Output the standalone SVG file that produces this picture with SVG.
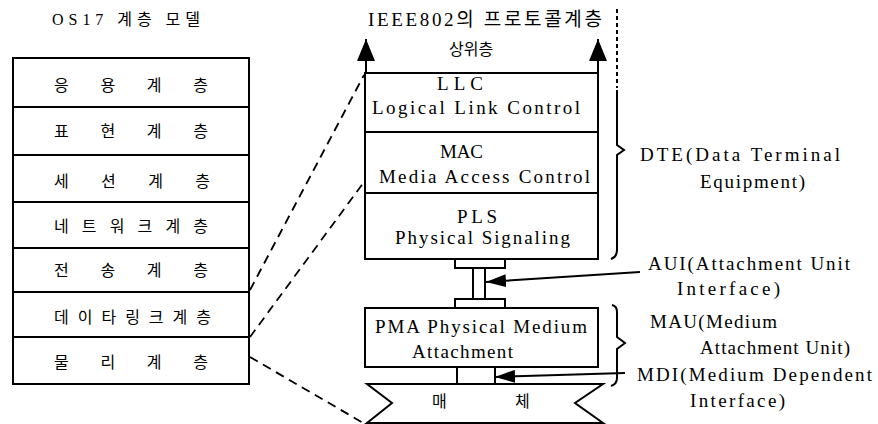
<svg xmlns="http://www.w3.org/2000/svg" width="878" height="424" viewBox="0 0 878 424">
  <style>
    .box { fill: #fff; stroke: #000; stroke-width: 2; }
    .ln { fill: none; stroke: #000; stroke-width: 2; }
    .dash { fill: none; stroke: #000; stroke-width: 1.8; stroke-dasharray: 9 6; }
    .dot { fill: none; stroke: #000; stroke-width: 2; stroke-dasharray: 4 3; }
    .en { font-family: "Liberation Serif", "Noto Sans CJK KR", serif; font-size: 19px; fill: #000; }
    .ko { font-family: "Liberation Serif", "Noto Sans CJK KR", serif; font-size: 16px; fill: #000; }
  </style>
  <defs>
    <marker id="up" viewBox="0 0 10 10" refX="10" refY="5" markerUnits="userSpaceOnUse" markerWidth="22" markerHeight="18" orient="auto" preserveAspectRatio="none">
      <path d="M0,0 L10,5 L0,10 z" fill="#000"/>
    </marker>
    <marker id="side" viewBox="0 0 10 10" refX="10" refY="5" markerUnits="userSpaceOnUse" markerWidth="20" markerHeight="13" orient="auto" preserveAspectRatio="none">
      <path d="M0,0 L10,5 L0,10 z" fill="#000"/>
    </marker>
  </defs>
  <rect width="878" height="424" fill="#fff"/>

  <!-- OSI 7 layer stack -->
  <g id="osi">
    <text class="ko" x="52" y="25" textLength="148" lengthAdjust="spacing" font-size="18">OS17 계층 모델</text>
    <g id="osi-app">
      <rect class="box" x="13" y="58" width="236" height="49"/>
      <text class="ko" x="54" y="91" textLength="154" lengthAdjust="spacing">응 용 계 층</text>
    </g>
    <g id="osi-pres">
      <rect class="box" x="13" y="107" width="236" height="48"/>
      <text class="ko" x="54" y="137" textLength="154" lengthAdjust="spacing">표 현 계 층</text>
    </g>
    <g id="osi-sess">
      <rect class="box" x="13" y="155" width="236" height="47"/>
      <text class="ko" x="54" y="187" textLength="156" lengthAdjust="spacing">세 션 계 층</text>
    </g>
    <g id="osi-net">
      <rect class="box" x="13" y="202" width="236" height="46"/>
      <text class="ko" x="54" y="232" textLength="154" lengthAdjust="spacing">네트워크계층</text>
    </g>
    <g id="osi-trans">
      <rect class="box" x="13" y="248" width="236" height="44"/>
      <text class="ko" x="54" y="276" textLength="154" lengthAdjust="spacing">전 송 계 층</text>
    </g>
    <g id="osi-link">
      <rect class="box" x="13" y="292" width="236" height="45"/>
      <text class="ko" x="54" y="323" textLength="157" lengthAdjust="spacing">데이타링크계층</text>
    </g>
    <g id="osi-phys">
      <rect class="box" x="13" y="337" width="236" height="47"/>
      <text class="ko" x="54" y="368" textLength="154" lengthAdjust="spacing">물 리 계 층</text>
    </g>
  </g>

  <!-- IEEE 802 stack -->
  <g id="ieee-title">
    <text class="en" x="368" y="26" textLength="234" lengthAdjust="spacing" font-size="18">IEEE802의 프로토콜계층</text>
    <text class="ko" x="449" y="55" font-size="14">상위층</text>
  </g>
  <g id="llc">
    <rect class="box" x="365" y="73" width="233" height="59"/>
    <text class="en" x="437" y="90" textLength="46" lengthAdjust="spacing">LLC</text>
    <text class="en" x="372" y="114" textLength="208" lengthAdjust="spacing">Logical Link Control</text>
  </g>
  <g id="mac">
    <rect class="box" x="365" y="132" width="233" height="61"/>
    <text class="en" x="440" y="158" textLength="43" lengthAdjust="spacing">MAC</text>
    <text class="en" x="379" y="183" textLength="211" lengthAdjust="spacing">Media Access Control</text>
  </g>
  <g id="pls">
    <rect class="box" x="365" y="193" width="233" height="66"/>
    <text class="en" x="457" y="223" textLength="40" lengthAdjust="spacing">PLS</text>
    <text class="en" x="395" y="244" textLength="175" lengthAdjust="spacing">Physical Signaling</text>
  </g>
  <g id="aui-cable">
    <rect class="box" x="455" y="259" width="50" height="9"/>
    <line class="ln" x1="473" y1="268" x2="473" y2="299"/>
    <line class="ln" x1="485" y1="268" x2="485" y2="299"/>
    <rect class="box" x="455" y="299" width="50" height="9"/>
  </g>
  <g id="pma">
    <rect class="box" x="365" y="308" width="233" height="59"/>
    <text class="en" x="375" y="333" textLength="212" lengthAdjust="spacing">PMA Physical Medium</text>
    <text class="en" x="412" y="358" textLength="101" lengthAdjust="spacing">Attachment</text>
  </g>
  <g id="mdi">
    <rect class="box" x="457" y="367" width="38" height="17"/>
  </g>
  <g id="medium">
    <polygon class="box" points="367,384 603,384 575,403 603,423 367,423 392,403"/>
    <text class="ko" x="432" y="407" font-size="14">매</text>
    <text class="ko" x="515" y="407" font-size="14">체</text>
  </g>

  <!-- side labels -->
  <g id="dte">
    <path class="ln" d="M617,90 V145 L624,150 L617,155 V250 Q617,257 611,259"/>
    <text class="en" x="640" y="161" textLength="200" lengthAdjust="spacing">DTE(Data Terminal</text>
    <text class="en" x="700" y="188" textLength="105" lengthAdjust="spacing">Equipment)</text>
  </g>
  <g id="aui">
    <text class="en" x="648" y="270" textLength="202" lengthAdjust="spacing">AUI(Attachment Unit</text>
    <text class="en" x="677" y="295" textLength="103" lengthAdjust="spacing">Interface)</text>
  </g>
  <g id="mau">
    <path class="ln" d="M612,305 Q617,306 617,312 V337 L625,343 L617,349 V378 Q617,384 611,386"/>
    <text class="en" x="650" y="328" textLength="127" lengthAdjust="spacing">MAU(Medium</text>
    <text class="en" x="700" y="354" textLength="150" lengthAdjust="spacing">Attachment Unit)</text>
  </g>
  <g id="mdi-label">
    <text class="en" x="637" y="381" textLength="235" lengthAdjust="spacing">MDI(Medium Dependent</text>
    <text class="en" x="690" y="407" textLength="95" lengthAdjust="spacing">Interface)</text>
  </g>

  <!-- connectors -->
  <g id="connectors">
    <line class="ln" x1="366" y1="74" x2="366" y2="39" marker-end="url(#up)"/>
    <line class="ln" x1="598" y1="74" x2="598" y2="39" marker-end="url(#up)"/>
    <line class="dot" x1="617" y1="9" x2="617" y2="88"/>
    <line class="ln" x1="640" y1="272" x2="486" y2="282" marker-end="url(#side)"/>
    <line class="ln" x1="625" y1="373" x2="495" y2="377" marker-end="url(#side)"/>
    <line class="dash" x1="250" y1="290" x2="364" y2="75"/>
    <line class="dash" x1="250" y1="337" x2="364" y2="182"/>
    <line class="dash" x1="250" y1="357" x2="365" y2="424"/>
  </g>
</svg>
